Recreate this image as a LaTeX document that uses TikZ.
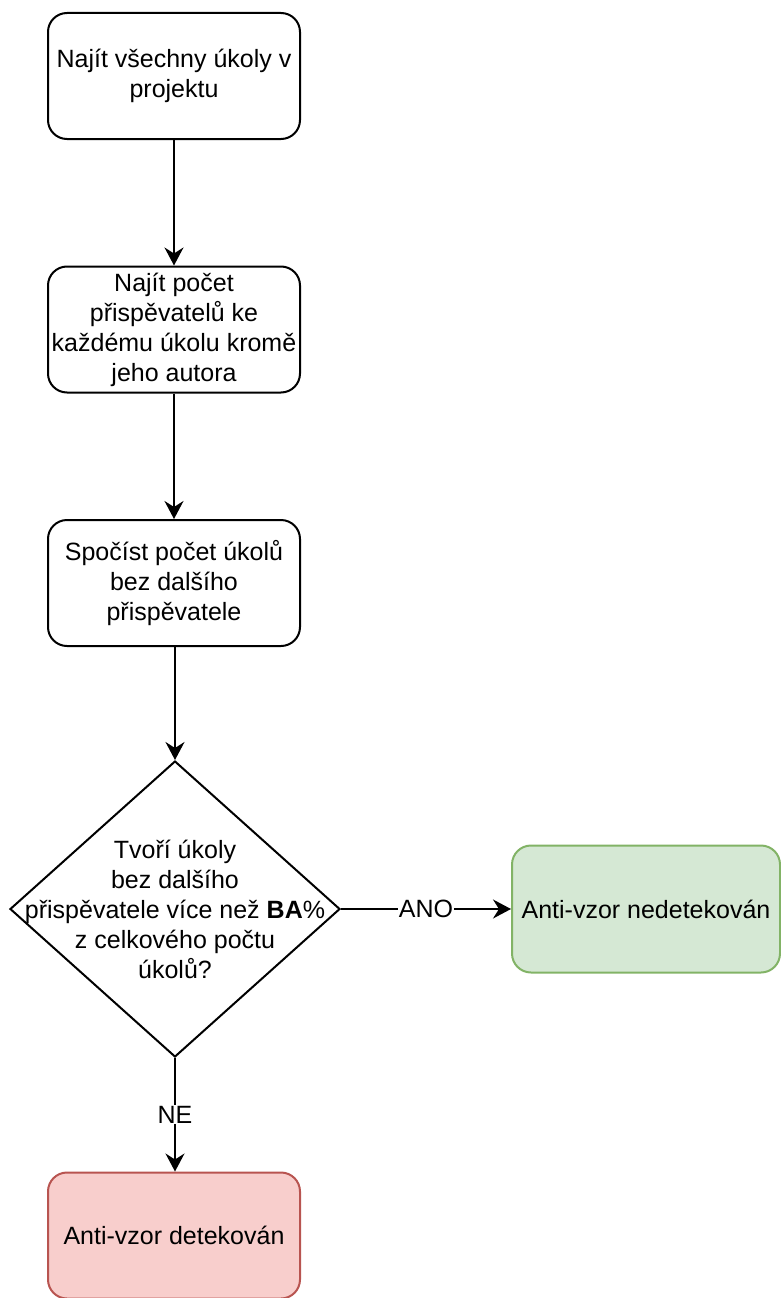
\documentclass[tikz,border=0pt]{standalone}
\usepackage{fontspec}
\setmainfont{Liberation Sans}
\usetikzlibrary{shapes.geometric,arrows.meta}

\definecolor{okfill}{HTML}{D5E8D4}
\definecolor{okline}{HTML}{82B366}
\definecolor{badfill}{HTML}{F8CECC}
\definecolor{badline}{HTML}{B85450}

\tikzset{
  boxfont/.style={font=\fontsize{25pt}{30pt}\selectfont},
  stepbox/.style={draw=black, line width=2pt, rounded corners=19pt, fill=white,
    minimum width=252pt, minimum height=126pt, inner sep=0pt, align=center, boxfont},
  decision/.style={draw=black, line width=2pt, diamond, inner sep=0pt,
    minimum width=330pt, minimum height=296pt},
  flow/.style={line width=2pt, -{Stealth[length=18pt,width=19pt,inset=6pt]}},
  edgelabel/.style={fill=white, inner sep=1pt, boxfont}
}

\begin{document}
\begin{tikzpicture}[x=1pt,y=-1pt]
  \useasboundingbox (0,0) rectangle (781,1298);

  % process steps
  \node[stepbox] (find) at (174,76) {Najít všechny úkoly v\\projektu};
  \node[stepbox] (count) at (174,329.5) {Najít počet\\přispěvatelů ke\\každému úkolu kromě\\jeho autora};
  \node[stepbox] (sum) at (174,583) {Spočíst počet úkolů\\bez dalšího\\přispěvatele};

  % decision
  \node[decision] (ask) at (175,909) {};
  \node[align=center, boxfont] (asktext) at (ask.center)
    {Tvoří úkoly\\bez dalšího\\přispěvatele více než \textbf{BA}\%\\z celkového počtu\\úkolů?};

  % outcomes
  \node[stepbox, fill=okfill, draw=okline, minimum width=268pt, minimum height=127pt] (ok) at (646,909) {Anti-vzor nedetekován};
  \node[stepbox, fill=badfill, draw=badline] (bad) at (174,1235.5) {Anti-vzor detekován};

  % connectors
  \draw[flow] (find.south) -- (count.north);
  \draw[flow] (count.south) -- (sum.north);
  \draw[flow] (sum.south -| ask.north) -- (ask.north);
  \draw[flow] (ask.east) -- node[edgelabel]{ANO} (ok.west);
  \draw[flow] (ask.south) -- node[edgelabel]{NE} (bad.north -| ask.south);
\end{tikzpicture}
\end{document}
